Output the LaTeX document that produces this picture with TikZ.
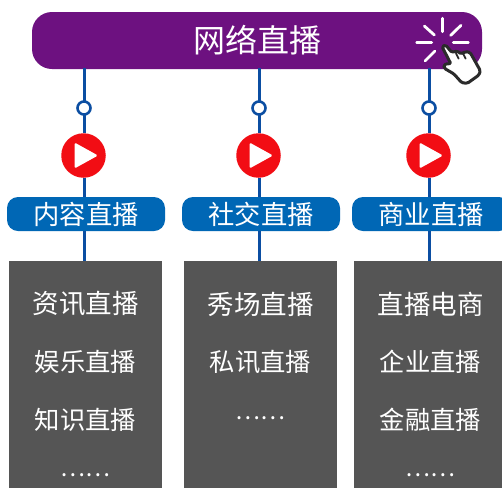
\documentclass[tikz,border=0pt]{standalone}
\usepackage{fontspec}
\usetikzlibrary{calc}
\newfontfamily\cjk{Noto Sans CJK SC}
\definecolor{barp}{HTML}{6D1180}
\definecolor{lineb}{HTML}{0B4EA2}
\definecolor{pillb}{HTML}{0067B5}
\definecolor{boxg}{HTML}{555555}
\definecolor{playr}{HTML}{F20D14}
\definecolor{handk}{HTML}{2B2B2B}
\tikzset{
 x=1pt,y=-1pt,
 every node/.style={inner sep=0pt,outer sep=0pt,font=\cjk},
 link/.style={draw=lineb,line width=3pt},
 ringn/.style={circle,draw=lineb,line width=2.6pt,fill=white,minimum size=13pt},
 playn/.style={circle,fill=playr,minimum size=44.5pt},
 pill/.style={rounded corners=11pt,fill=pillb,text=white,minimum height=34pt,font=\cjk\fontsize{26.3}{26.3}\selectfont},
 boxn/.style={fill=boxg,anchor=north west},
 item/.style={text=white,font=\cjk\fontsize{25.3}{25.3}\selectfont},
 itemtop/.style={text=white,font=\cjk\fontsize{26.5}{26.5}\selectfont},
 dots/.style={text=white,font=\cjk\fontsize{23.5}{23.5}\selectfont},
 ray/.style={draw=white,line width=2.8pt,line cap=round},
}
\begin{document}
\begin{tikzpicture}
\useasboundingbox (0,0) rectangle (502,488);
\fill[white] (0,0) rectangle (502,488);
\node[fill=barp,rounded corners=20pt,minimum width=450pt,minimum height=57pt] (bar) at (257,40.5) {};
\node[text=white,font=\cjk\fontsize{32}{32}\selectfont] (title) at (257.5,40) {网络直播};
% gray boxes
\node[boxn,minimum width=153pt,minimum height=227pt] (box1) at (9,261) {};
\node[boxn,minimum width=153pt,minimum height=227pt] (box2) at (184,261) {};
\node[boxn,minimum width=148pt,minimum height=227pt] (box3) at (354,261) {};
% rows
\coordinate (t1) at (84,68);\coordinate (t2) at (259,68);\coordinate (t3) at (429,68);
\node[ringn] (ring1) at (84,108) {};\node[ringn] (ring2) at (259,108) {};\node[ringn] (ring3) at (429,108) {};
\node[playn] (play1) at (83.5,155.5) {};\node[playn] (play2) at (258.5,155.5) {};\node[playn] (play3) at (428.5,155.5) {};
\node[pill,minimum width=158pt] (pill1) at (86,214) {内容直播};
\node[pill,minimum width=158pt] (pill2) at (261,214) {社交直播};
\node[pill,minimum width=158pt] (pill3) at (431,214) {商业直播};
\foreach \n in {1,2,3}{
 \draw[link] (t\n) -- (ring\n.north);
 \draw[link] (ring\n.south) -- (play\n.north -| ring\n);
 \draw[link] (play\n.south -| ring\n) -- (pill\n.north -| ring\n);
 \draw[link] (pill\n.south -| ring\n) -- (box\n.north -| ring\n);
 \fill[white,rounded corners=1.5pt] ($(play\n)+(-9,-13)$) -- ++(23.5,13) -- ++(-23.5,13) -- cycle;
}
% list items
\node[itemtop] (a1) at (85.5,304) {资讯直播};
\node[item] (a2) at (85.5,362) {娱乐直播};
\node[item] (a3) at (85.5,420) {知识直播};
\node[dots] (a4) at (85.5,475.5) {……};
\node[itemtop] (b1) at (260.5,304) {秀场直播};
\node[item] (b2) at (260.5,362) {私讯直播};
\node[dots] (b3) at (260.5,418) {……};
\node[itemtop] (c1) at (430.5,304) {直播电商};
\node[item] (c2) at (430.5,362) {企业直播};
\node[item] (c3) at (430.5,420) {金融直播};
\node[dots] (c4) at (430.5,475.5) {……};
% click icon
\begin{scope}[shift={(380,0)},x=0.3333pt,y=-0.3333pt]
\draw[ray] (187,55) -- (187,95);
\draw[ray] (110,128) -- (155,128);
\draw[ray] (220,128) -- (265,128);
\draw[ray] (133,78) -- (163,105);
\draw[ray] (243,76) -- (212,106);
\draw[ray] (135,183) -- (165,153);
\draw[fill=white,draw=handk,line width=3pt,line join=round,rounded corners=1.5pt]
 (186,140) -- (197,135) -- (215,157) -- (232,153) -- (243,162) -- (256,155) -- (270,157) -- (282,178) -- (301,212) -- (297,225) -- (262,250) -- (245,248) -- (222,222) -- (193,205) -- (191,195) -- (205,190) -- (213,192) -- cycle;
\draw[handk,line width=1.8pt,line cap=round] (228,160) -- (236,176);
\draw[handk,line width=1.8pt,line cap=round] (250,162) -- (257,176);
\end{scope}
\end{tikzpicture}
\end{document}
